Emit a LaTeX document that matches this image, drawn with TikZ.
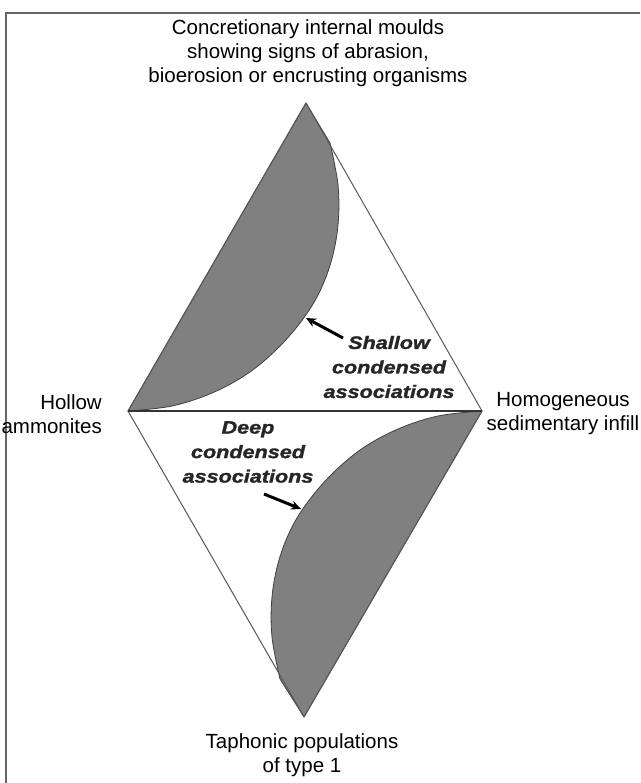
\documentclass[tikz,border=0pt]{standalone}
\usepackage{fontspec}
\setmainfont{Liberation Sans}
\newfontfamily\lblfont[FakeStretch=1.2,FakeBold=1.5]{Liberation Sans}
\usetikzlibrary{arrows.meta}
\begin{document}
\begin{tikzpicture}[x=1pt,y=-1pt,
  txt/.style={font=\fontsize{20.5}{24}\selectfont, inner sep=0pt, align=center, text=black},
  assoc/.style={font=\lblfont\bfseries\itshape\fontsize{18}{24.5}\selectfont, inner sep=0pt, align=center, text=black!85},
  shade/.style={fill=black!50, draw=black!75, line width=0.8},
  edge/.style={draw=black!65, line width=1},
  midline/.style={draw=black!80, line width=1.6},
  frameline/.style={draw=black!60, line width=2},
  arr/.style={draw=black, line width=3, -{Stealth[length=10,width=9]}}]
\useasboundingbox (0,0) rectangle (640,783);
\fill[white] (0,0) rectangle (640,783);
% frame (top and left only)
\draw[frameline] (6,783) -- (6,13) -- (640,13);
% diamond vertices
\coordinate (T) at (306,103);
\coordinate (L) at (128,411);
\coordinate (R) at (482,411);
\coordinate (B) at (304,717);
% upper shaded region
\path[shade] (T) -- (330,143)
  -- plot[smooth, tension=0.6] coordinates {(330,143) (338,185) (338,225) (331,262) (318,295) (300,323) (276,350) (247,374) (212,393) (172,406) (128,411)}
  -- cycle;
% lower shaded region (point-symmetric to the upper one)
\path[shade] (B) -- (280,679)
  -- plot[smooth, tension=0.6] coordinates {(280,679) (272,637) (272,597) (279,560) (292,527) (310,499) (334,472) (363,448) (398,429) (438,416) (482,411)}
  -- cycle;
% diamond edges
\draw[edge] (T) -- (L);
\draw[edge] (T) -- (R);
\draw[edge] (B) -- (L);
\draw[edge] (B) -- (R);
\draw[midline] (L) -- (R);
% labels
\node[txt] (top) at (308,53) {Concretionary internal moulds\\showing signs of abrasion,\\bioerosion or encrusting organisms};
\node[txt, anchor=east, align=right] (left) at (102,414) {Hollow\\ammonites};
\node[txt] (right) at (563,414) {Homogeneous\\sedimentary infill};
\node[txt] (bottom) at (302,755) {Taphonic populations\\of type 1};
\node[assoc] (shallow) at (389,367) {Shallow\\condensed\\associations};
\node[assoc] (deep) at (248,452) {Deep\\condensed\\associations};
% arrows
\coordinate (shtail) at (343,338);
\coordinate (shtip) at (306,318);
\coordinate (dptail) at (264,494);
\coordinate (dptip) at (301,509);
\draw[arr] (shtail) -- (shtip);
\draw[arr] (dptail) -- (dptip);
\end{tikzpicture}
\end{document}
